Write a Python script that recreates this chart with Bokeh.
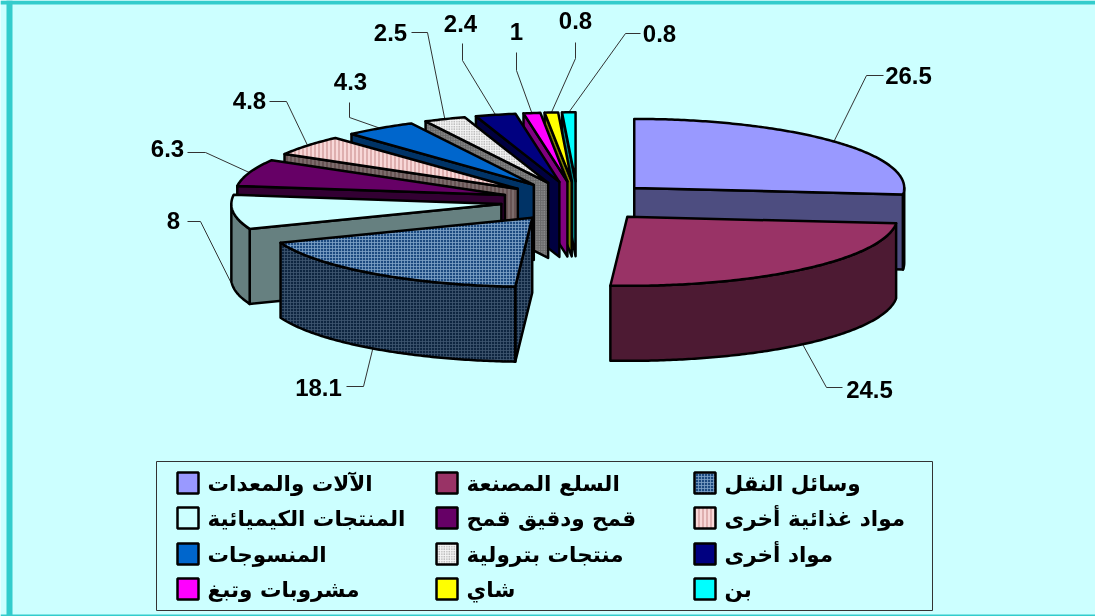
import math
from bokeh.plotting import figure
from bokeh.embed import file_html
from bokeh.resources import INLINE
from bokeh.core.properties import value

# ---- data ----
categories = ["الآلات والمعدات", "السلع المصنعة", "وسائل النقل", "المنتجات الكيميائية",
              "قمح ودقيق قمح", "مواد غذائية أخرى", "المنسوجات", "منتجات بترولية",
              "مواد أخرى", "مشروبات وتبغ", "شاي", "بن"]
values = [26.5, 24.5, 18.1, 8, 6.3, 4.8, 4.3, 2.5, 2.4, 1, 0.8, 0.8]
value_labels = ["26.5", "24.5", "18.1", "8", "6.3", "4.8", "4.3", "2.5", "2.4", "1", "0.8", "0.8"]

# ---- styles ----
top_colors = ["#9999FF", "#993366", "#1C4A80", "#CCFFFF", "#660066", "#F8D8D8",
              "#0066CC", "#F4F4F4", "#000080", "#FF00FF", "#FFFF00", "#00FFFF"]
wall_colors = ["#4D4D80", "#4D1A33", "#0E2540", "#668080", "#330033", "#7C6C6C",
               "#003366", "#6A6A6A", "#000040", "#800080", "#808000", "#008080"]
hatch_patterns = [None, None, "cross", None, None, "vertical_line",
                  None, "dot", None, None, None, None]
hatch_scales = [None, None, 3, None, None, 4, None, 2.5, None, None, None, None]
hatch_colors = [None, None, "#80A4C8", None, None, "#B87070",
                None, "#666666", None, None, None, None]
wall_hatch_colors = [None, None, "#405870", None, None, "#4A3030",
                     None, "#BBBBBB", None, None, None, None]

BG = "#CCFFFF"
FRAME = "#33CCCC"
W, H = 1095, 616
CX, CY = 577, 201        # pie centre in page pixels
RX, RY = 270, 69         # ellipse radii of the tilted pie
EX, EY = 76.7, 20.2      # explosion offset
DEPTH = 75
EDGE = 2.5

# label centre + elbow points for every leader line
label_pos = [(908, 75), (869, 389), (318, 387), (173, 220), (167, 148), (249, 100),
             (350, 81), (390, 32), (460, 23), (516, 31), (575, 20), (659, 33)]
leader_elbows = [[(883, 75), (866, 75)], [(842, 387), (826, 387)], [(346, 386), (363, 386)],
                 [(187, 221), (200, 221)], [(187, 152), (205, 152)], [(269, 101), (286, 101)],
                 [(349, 102), (349, 117)], [(411, 32), (427, 32)], [(462, 43), (462, 60)],
                 [(516, 52), (516, 70)], [(575, 42), (575, 58)], [(640, 33), (625, 33)]]

p = figure(width=W, height=H, x_range=(0, W), y_range=(H, 0), toolbar_location=None,
           output_backend="svg", min_border=0, outline_line_color=None,
           background_fill_color=BG, border_fill_color=BG,
           styles={"position": "fixed", "left": "0px", "top": "0px"})
p.axis.visible = False
p.grid.visible = False

# frame bands
p.quad(left=[0, 6, 0], right=[W, 12, W], top=[0, 0, 614], bottom=[4, H, H],
       fill_color=FRAME, line_color=None)

def rim(ax, ay, deg, dz=0):
    t = math.radians(deg)
    return ax + RX * math.sin(t), ay - RY * math.cos(t) + dz

def arc_pts(ax, ay, a, b, dz=0):
    n = max(2, int(abs(b - a) * 1.5) + 1)
    return [rim(ax, ay, a + (b - a) * i / (n - 1), dz) for i in range(n)]

def hatch_kw(pattern, color, scale):
    if not pattern:
        return {}
    return dict(hatch_pattern=pattern, hatch_color=color, hatch_scale=scale,
                hatch_weight=1, hatch_alpha=0.8)

def draw(pts, fill, **kw):
    p.patch([q[0] for q in pts], [q[1] for q in pts], fill_color=fill,
            line_color="black", line_width=EDGE, line_join="round", **kw)

total = sum(values)
spans, acc = [], 0.0
for v in values:
    spans.append((acc / total * 360, (acc + v) / total * 360))
    acc += v

apex = []
for a, b in spans:
    t = math.radians((a + b) / 2)
    apex.append((CX + EX * math.sin(t), CY - EY * math.cos(t)))

# leaders
for i, (a, b) in enumerate(spans):
    m = (a + b) / 2
    dz = DEPTH if 90 < m < 270 else 0
    r = rim(apex[i][0], apex[i][1], m, dz)
    pts = leader_elbows[i] + [r]
    p.line([q[0] for q in pts], [q[1] for q in pts], line_color="#333333", line_width=1)

# painter's order: back slices first
order = [0, 11, 10, 9, 8, 7, 6, 5, 4, 3, 2, 1]
for i in order:
    a, b = spans[i]
    ax, ay = apex[i]
    wc = wall_colors[i]
    wk = hatch_kw(hatch_patterns[i], wall_hatch_colors[i], hatch_scales[i])
    tk = hatch_kw(hatch_patterns[i], hatch_colors[i], hatch_scales[i])
    if 180 <= a < 360:
        r = rim(ax, ay, a)
        draw([(ax, ay), r, (r[0], r[1] + DEPTH), (ax, ay + DEPTH)], wc, **wk)
    if 0 < b <= 180:
        r = rim(ax, ay, b)
        draw([(ax, ay), r, (r[0], r[1] + DEPTH), (ax, ay + DEPTH)], wc, **wk)
    lo, hi = max(a, 90), min(b, 270)
    if lo < hi:
        draw(arc_pts(ax, ay, lo, hi) + arc_pts(ax, ay, hi, lo, DEPTH), wc, **wk)
    draw([(ax, ay)] + arc_pts(ax, ay, a, b), top_colors[i], **tk)

# value labels
p.text(x=[q[0] for q in label_pos], y=[q[1] for q in label_pos], text=value_labels,
       text_font=value("Liberation Sans"), text_font_style="bold", text_font_size="24px",
       text_align="center", text_baseline="middle", text_color="black")

# legend
p.quad(left=[156], right=[932], top=[461], bottom=[610], fill_color=BG,
       line_color="#333333", line_width=1)
col_x = [177, 436, 694]
row_y = [472, 507, 543, 578]
SW = 21
for i, name in enumerate(categories):
    x0, y0 = col_x[i % 3], row_y[i // 3]
    p.quad(left=[x0], right=[x0 + SW], top=[y0], bottom=[y0 + SW], fill_color=top_colors[i],
           line_color="black", line_width=EDGE,
           **hatch_kw(hatch_patterns[i], hatch_colors[i], hatch_scales[i]))
    p.text(x=[x0 + SW + 9], y=[y0 + SW / 2], text=[name], text_font=value("DejaVu Sans"),
           text_font_style="bold", text_font_size="21.5px", text_align="left",
           text_baseline="middle", text_color="black")

open("out.html", "w").write(file_html(p, INLINE))
